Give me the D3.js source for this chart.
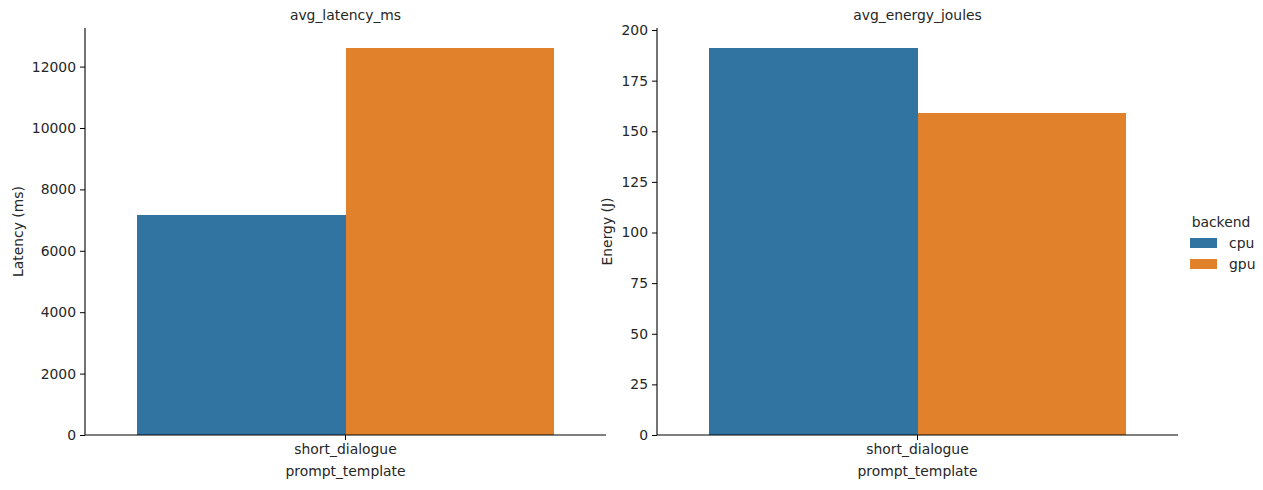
<!DOCTYPE html>
<html><head><meta charset="utf-8">
<script src="https://cdn.jsdelivr.net/npm/d3@7"></script>
<style>
body{margin:0;background:#fff;}
text{font-family:"DejaVu Sans",sans-serif;fill:#262626;}
rect.bar{shape-rendering:crispEdges;}
</style></head>
<body><svg id="c" width="1263" height="490"></svg>
<script>
const categories = ["short_dialogue"];
const backends = ["cpu", "gpu"];
const latencyValues = [7160, 12600];
const energyValues = [191.1, 159.0];
const latencyTicks = [0, 2000, 4000, 6000, 8000, 10000, 12000];
const energyTicks = [0, 25, 50, 75, 100, 125, 150, 175, 200];
const colors = ["#3274a1", "#e1812c"];

const FS = "13.9px";
const svg = d3.select("#c");
const yTop = 28, yBottom = 435;
const panels = [
  {title:"avg_latency_ms", ylabel:"Latency (ms)", values:latencyValues, ticks:latencyTicks, ymax:13257, x0:85, x1:606, ylabX:18},
  {title:"avg_energy_joules", ylabel:"Energy (J)", values:energyValues, ticks:energyTicks, ymax:201, x0:657, x1:1178, ylabX:607}
];

panels.forEach(p => {
  const g = svg.append("g");
  const y = d3.scaleLinear().domain([0, p.ymax]).range([yBottom, yTop]);
  const x = d3.scaleBand().domain(categories).range([p.x0, p.x1]).paddingInner(0).paddingOuter(0.125);
  const xs = d3.scaleBand().domain(backends).range([0, x.bandwidth()]);
  categories.forEach((c, ci) => {
    backends.forEach((b, bi) => {
      g.append("rect").attr("class", "bar")
        .attr("x", x(c) + xs(b))
        .attr("width", xs.bandwidth())
        .attr("y", y(p.values[bi]))
        .attr("height", yBottom - y(p.values[bi]))
        .attr("fill", colors[bi]);
    });
  });
  const ya = g.append("g").attr("transform", `translate(${p.x0},0)`)
    .call(d3.axisLeft(y).tickValues(p.ticks).tickSize(5).tickPadding(4).tickFormat(d3.format("d")));
  ya.select(".domain").attr("d", `M0,${yTop}V${yBottom}`).attr("stroke", "#000").attr("stroke-width", 1.1);
  ya.selectAll(".tick line").attr("stroke", "#000");
  ya.selectAll("text").style("font-size", FS).style("fill", "#262626");
  const xa = g.append("g").attr("transform", `translate(0,${yBottom})`)
    .call(d3.axisBottom(x).tickSize(5).tickPadding(4));
  xa.select(".domain").attr("d", `M${p.x0},0H${p.x1}`).attr("stroke", "#000").attr("stroke-width", 1.1);
  xa.selectAll(".tick line").attr("stroke", "#000");
  xa.selectAll("text").style("font-size", FS).style("fill", "#262626");
  g.append("text").attr("x", (p.x0 + p.x1) / 2).attr("y", 20).attr("text-anchor", "middle")
    .style("font-size", FS).text(p.title);
  g.append("text").attr("x", (p.x0 + p.x1) / 2).attr("y", 476).attr("text-anchor", "middle")
    .style("font-size", FS).text("prompt_template");
  g.append("text").attr("transform", `translate(${p.ylabX},${(yTop + yBottom) / 2}) rotate(-90)`)
    .attr("dy", "0.35em").attr("text-anchor", "middle").style("font-size", FS).text(p.ylabel);
});

const lg = svg.append("g");
lg.append("text").attr("x", 1221).attr("y", 227).attr("text-anchor", "middle").style("font-size", FS).text("backend");
backends.forEach((b, i) => {
  lg.append("rect").attr("x", 1190).attr("y", 238 + i * 21).attr("width", 27).attr("height", 10).attr("fill", colors[i]);
  lg.append("text").attr("x", 1229).attr("y", 243 + i * 21).attr("dy", "0.35em").style("font-size", FS).text(b);
});
</script></body></html>
